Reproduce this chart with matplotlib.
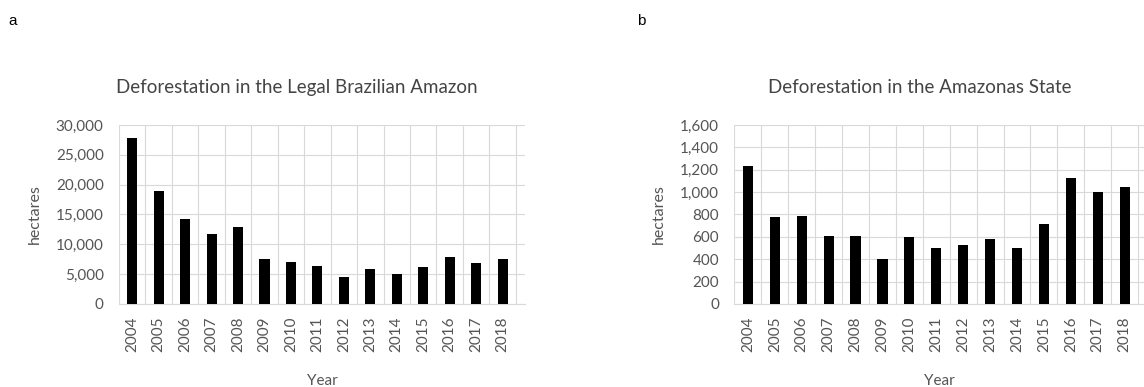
import matplotlib
matplotlib.use('Agg')
import matplotlib.pyplot as plt
import numpy as np

years = ['2004', '2005', '2006', '2007', '2008', '2009', '2010', '2011',
         '2012', '2013', '2014', '2015', '2016', '2017', '2018']

# annual deforestation, legal amazon and amazonas state
legal_amazon = [27772, 19014, 14286, 11651, 12911, 7464, 7000, 6418,
                4571, 5891, 5012, 6207, 7893, 6947, 7536]
amazonas = [1232, 775, 788, 610, 604, 405, 595, 502,
            523, 583, 500, 712, 1129, 1001, 1045]

txt = '#555555'
grid_col = '#d9d9d9'
plt.rcParams['font.family'] = ['Lato', 'DejaVu Sans']

fig = plt.figure(figsize=(11.44, 3.87), dpi=100)
ax1 = fig.add_axes([0.104, 0.2145, 0.355, 0.4625])
ax2 = fig.add_axes([0.642, 0.2145, 0.358, 0.4625])


def draw(ax, vals, title, ymax, ystep, xright, title_x):
    x = np.arange(len(vals))
    ax.bar(x, vals, width=0.38, color='black', zorder=3)
    ax.set_yticks(np.arange(0, ymax + 1, ystep))
    ax.yaxis.set_major_formatter(matplotlib.ticker.FuncFormatter(lambda v, p: f'{int(v):,}'))
    ax.set_xticks(x)
    ax.set_xticklabels(years, rotation=90)
    ax.set_xticks(np.arange(-0.5, len(vals), 1), minor=True)
    ax.set_xlim(-0.5, xright)
    ax.set_ylim(0, ymax)
    ax.grid(axis='y', which='major', color=grid_col, lw=0.8, zorder=0)
    ax.grid(axis='x', which='minor', color=grid_col, lw=0.8, zorder=0)
    ax.tick_params(which='both', length=0, labelsize=11, colors=txt)
    ax.tick_params(axis='y', pad=11)
    ax.tick_params(axis='x', pad=9)
    for s in ['top', 'right', 'left']:
        ax.spines[s].set_visible(False)
    ax.spines['bottom'].set_color(grid_col)
    fig.text(title_x, 0.775, title, fontsize=13.5, color='#444444',
             ha='center', va='center')
    ax.set_ylabel('hectares', fontsize=11.5, color=txt, labelpad=10)
    ax.set_xlabel('Year', fontsize=11, color=txt, labelpad=16)


draw(ax1, legal_amazon, 'Deforestation in the Legal Brazilian Amazon', 30000, 5000, 14.85, 297 / 1144)
draw(ax2, amazonas, 'Deforestation in the Amazonas State', 1600, 200, 14.72, 920 / 1144)

fig.text(0.007, 0.935, 'a', fontsize=11, family='Liberation Sans', color='black')
fig.text(0.557, 0.935, 'b', fontsize=11, family='Liberation Sans', color='black')

plt.savefig('out.png', dpi=100)
